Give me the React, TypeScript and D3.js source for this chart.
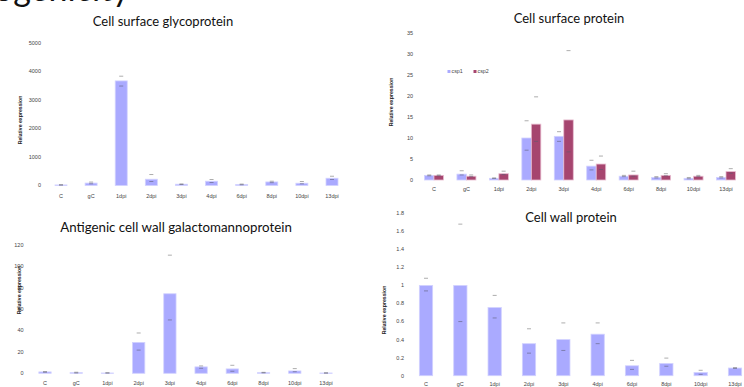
import * as d3 from "d3";

const categories = ["C", "gC", "1dpi", "2dpi", "3dpi", "4dpi", "6dpi", "8dpi", "10dpi", "13dpi"];

// Cell surface glycoprotein
const glyco = [20, 85, 3670, 220, 45, 150, 35, 125, 80, 255];
const glycoHi = [30, 120, 3835, 385, 55, 210, 50, 150, 140, 325];
const glycoLo = [12, 60, 3490, 140, 35, 105, 25, 100, 60, 210];
const glycoTicks = [0, 1000, 2000, 3000, 4000, 5000];

// Cell surface protein (csp1 / csp2)
const csp1 = [1.1, 1.4, 0.4, 10.0, 10.4, 3.3, 0.9, 0.6, 0.4, 0.6];
const csp1Hi = [1.2, 2.2, 0.5, 14.1, 11.5, 4.7, 1.1, 0.8, 0.6, 0.8];
const csp1Lo = [1.0, 1.2, 0.35, 7.1, 9.2, 2.4, 0.8, 0.5, 0.3, 0.5];
const csp2 = [1.1, 0.9, 1.5, 13.3, 14.3, 3.8, 1.2, 1.1, 0.9, 2.0];
const csp2Hi = [1.2, 1.2, 2.1, 19.8, 30.8, 5.7, 2.1, 1.5, 1.1, 2.7];
const csp2Lo = [1.0, 0.8, 1.3, 9.2, 6.7, 2.5, 0.9, 1.0, 0.8, 1.6];
const cspTicks = [0, 5, 10, 15, 20, 25, 30, 35];

// Antigenic cell wall galactomannoprotein
const antigen = [1.3, 0.6, 0.3, 28.9, 74.4, 6.0, 4.1, 0.6, 2.2, 0.3];
const antigenHi = [1.6, 1.0, 0.5, 37.7, 110.5, 6.9, 7.5, 0.9, 4.4, 0.4];
const antigenLo = [1.0, 0.3, 0.2, 21.7, 49.9, 4.7, 1.9, 0.4, 1.5, 0.2];
const antigenTicks = [0, 20, 40, 60, 80, 100, 120];

// Cell wall protein
const wall = [1.0, 1.0, 0.755, 0.355, 0.4, 0.46, 0.11, 0.135, 0.035, 0.085];
const wallHi = [1.08, 1.68, 0.89, 0.52, 0.585, 0.585, 0.17, 0.195, 0.06, 0.09];
const wallLo = [0.94, 0.6, 0.64, 0.25, 0.28, 0.355, 0.07, 0.105, 0.015, 0.08];
const wallTicks = [0, 0.2, 0.4, 0.6, 0.8, 1, 1.2, 1.4, 1.6, 1.8];

const BLUE = "#aaaaff";
const MAROON = "#a6456f";

interface Series {
  name: string;
  values: number[];
  hi: number[];
  lo: number[];
  color: string;
  edge: string;
}

interface PanelProps {
  title: string;
  titleX: number;
  titleY: number;
  titleSize?: number;
  series: Series[];
  ticks: number[];
  yMax: number;
  xRange: [number, number];
  yRange: [number, number];
  barW: number;
  tickX: number;
  labelY: number;
  axisTitleX: number;
  axisTitleY: number;
  legend?: { x: number; y: number; gap: number };
}

const sans = "'Liberation Sans', Arial, sans-serif";

function Panel(p: PanelProps) {
  const x = d3.scalePoint<string>().domain(categories).range(p.xRange);
  const y = d3.scaleLinear().domain([0, p.yMax]).range(p.yRange);
  const n = p.series.length;
  const fmt = (v: number) => String(+v.toFixed(2));

  return (
    <g>
      <text
        x={p.titleX}
        y={p.titleY}
        textAnchor="middle"
        fontFamily="Lato, 'Open Sans', sans-serif"
        fontSize={p.titleSize ?? 13}
        fill="#111"
      >
        {p.title}
      </text>
      {p.ticks.map((t) => (
        <text
          key={t}
          x={p.tickX}
          y={y(t)}
          dy="0.35em"
          textAnchor="end"
          fontFamily={sans}
          fontSize={5.5}
          fill="#444"
        >
          {fmt(t)}
        </text>
      ))}
      {categories.map((c) => (
        <text
          key={c}
          x={x(c)}
          y={p.labelY}
          textAnchor="middle"
          fontFamily={sans}
          fontSize={5.5}
          fill="#444"
        >
          {c}
        </text>
      ))}
      {p.series.map((s, si) => (
        <g key={s.name}>
          {s.values.map((v, i) => {
            // bars of a group sit side by side, centred on the category
            const left = x(categories[i])! - (n * p.barW) / 2 + si * p.barW;
            const mid = left + p.barW / 2;
            return (
              <g key={i}>
                <rect
                  x={left}
                  y={y(v)}
                  width={p.barW}
                  height={y(0) - y(v)}
                  fill={s.color}
                  stroke={s.edge}
                  strokeWidth={0.8}
                />
                <line
                  x1={mid - 2}
                  x2={mid + 2}
                  y1={y(s.hi[i])}
                  y2={y(s.hi[i])}
                  stroke="#8a8a8a"
                  strokeWidth={0.7}
                />
                <line
                  x1={mid - 2}
                  x2={mid + 2}
                  y1={y(s.lo[i])}
                  y2={y(s.lo[i])}
                  stroke="#5a5a70"
                  strokeWidth={0.7}
                  strokeOpacity={0.8}
                />
              </g>
            );
          })}
        </g>
      ))}
      <text
        transform={`translate(${p.axisTitleX},${p.axisTitleY}) rotate(-90)`}
        textAnchor="middle"
        dy="0.35em"
        fontFamily={sans}
        fontSize={5.2}
        fontWeight="bold"
        fill="#222"
      >
        Relative expression
      </text>
      {p.legend &&
        p.series.map((s, si) => (
          <g key={s.name} transform={`translate(${p.legend!.x + si * p.legend!.gap},${p.legend!.y})`}>
            <rect x={-1.5} y={-1.5} width={3} height={3} fill={s.color} />
            <text x={2.5} dy="0.35em" fontFamily={sans} fontSize={5.3} fill="#444">
              {s.name}
            </text>
          </g>
        ))}
    </g>
  );
}

export default function App() {
  return (
    <svg
      width={744}
      height={387}
      style={{ position: "absolute", left: 0, top: 0, background: "#fff" }}
    >
      <text x={-6} y={0.5} fontFamily="Lato, sans-serif" fontSize={34} fill="#111">
        ogenicity
      </text>
      <Panel
        title="Cell surface glycoprotein"
        titleX={163}
        titleY={25.5}
        series={[{ name: "glyco", values: glyco, hi: glycoHi, lo: glycoLo, color: BLUE, edge: "#d2d2ff" }]}
        ticks={glycoTicks}
        yMax={5000}
        xRange={[61, 332]}
        yRange={[185.5, 43]}
        barW={12}
        tickX={41}
        labelY={198}
        axisTitleX={20}
        axisTitleY={120}
      />
      <Panel
        title="Cell surface protein"
        titleX={569}
        titleY={23}
        series={[
          { name: "csp1", values: csp1, hi: csp1Hi, lo: csp1Lo, color: BLUE, edge: "#d2d2ff" },
          { name: "csp2", values: csp2, hi: csp2Hi, lo: csp2Lo, color: MAROON, edge: "#e8bcd0" },
        ]}
        ticks={cspTicks}
        yMax={35}
        xRange={[434, 726]}
        yRange={[180, 33]}
        barW={9.5}
        tickX={413}
        labelY={191}
        axisTitleX={391}
        axisTitleY={102}
        legend={{ x: 449, y: 71.5, gap: 26 }}
      />
      <Panel
        title="Antigenic cell wall galactomannoprotein"
        titleX={176}
        titleY={231.5}
        titleSize={13.3}
        series={[{ name: "agm", values: antigen, hi: antigenHi, lo: antigenLo, color: BLUE, edge: "#d2d2ff" }]}
        ticks={antigenTicks}
        yMax={120}
        xRange={[45, 326]}
        yRange={[373.3, 245]}
        barW={12.3}
        tickX={23.5}
        labelY={384.5}
        axisTitleX={19}
        axisTitleY={290}
      />
      <Panel
        title="Cell wall protein"
        titleX={571}
        titleY={221.5}
        series={[{ name: "cwp", values: wall, hi: wallHi, lo: wallLo, color: BLUE, edge: "#d2d2ff" }]}
        ticks={wallTicks}
        yMax={1.8}
        xRange={[426, 735]}
        yRange={[375.7, 213.3]}
        barW={13.3}
        tickX={404}
        labelY={386}
        axisTitleX={384}
        axisTitleY={310}
      />
    </svg>
  );
}
